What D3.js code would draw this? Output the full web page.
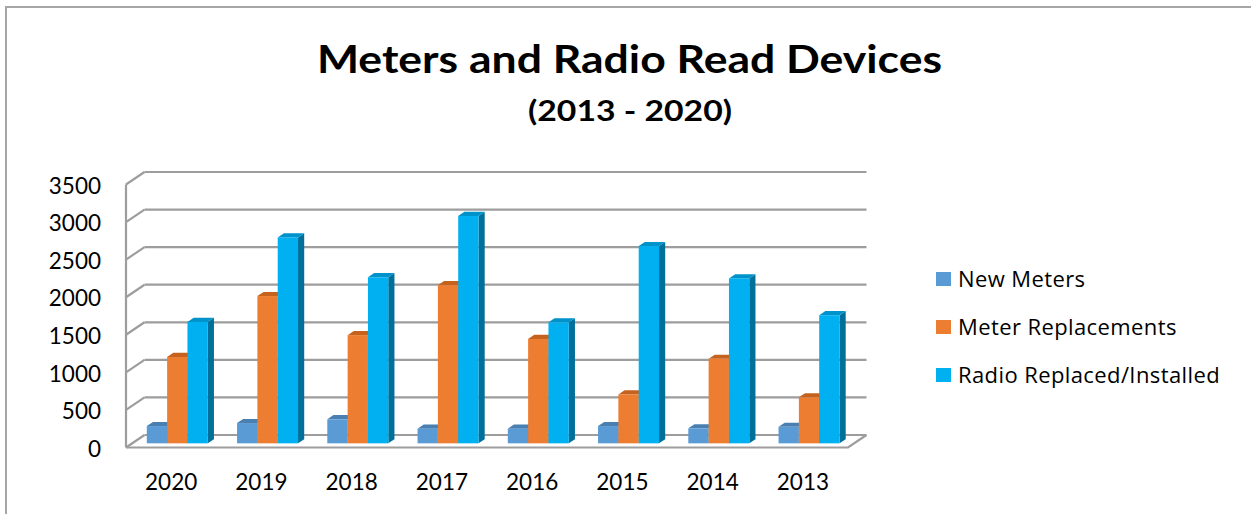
<!DOCTYPE html>
<html>
<head>
<meta charset="utf-8">
<script src="https://cdn.jsdelivr.net/npm/d3@7"></script>
<style>
  body { margin: 0; background: #fff; }
  text { fill: #000; }
</style>
</head>
<body>
<div id="chart"></div>
<script>
/////////////////////////////////////
///      DATA
/////////////////////////////////////
var years = ["2020", "2019", "2018", "2017", "2016", "2015", "2014", "2013"];
var newMeters = [230, 270, 320, 195, 195, 230, 200, 220];
var meterReplacements = [1150, 1960, 1440, 2105, 1390, 650, 1125, 612];
var radioReplaced = [1615, 2740, 2210, 3025, 1610, 2625, 2195, 1705];
var seriesNames = ["New Meters", "Meter Replacements", "Radio Replaced/Installed"];
var yTicks = [0, 500, 1000, 1500, 2000, 2500, 3000, 3500];

var width = 1251, height = 514;
// front, top and side colours per series
var faceCol = ["#5B9BD5", "#ED7D31", "#00B0F0"];
var topCol = ["#4A7FB1", "#C5621E", "#0092CA"];
var sideCol = ["#3F6D99", "#AE561A", "#00709B"];
var gridCol = "#9d9d9d";

var depth = {x: 18.5, y: -12.5};   // floor depth vector

var svg = d3.select("#chart").append("svg:svg")
    .attr("width", width)
    .attr("height", height)
    .attr("font-family", "Lato, sans-serif");

// outer border (top + left only visible)
svg.append("path")
   .attr("d", "M6," + height + "V7H" + width)
   .attr("fill", "none").attr("stroke", "#a6a6a6").attr("stroke-width", 2);

var x = d3.scaleBand().domain(years).range([126, 848]);
var y = d3.scaleLinear().domain([0, 3500]).range([447.5, 184.5]);
var clusterW = 61;
var xSub = d3.scaleBand().domain(seriesNames)
    .range([(x.bandwidth() - clusterW) / 2, (x.bandwidth() + clusterW) / 2]);

/////////////////////////////////////
///      WALLS + GRID
/////////////////////////////////////
var grid = svg.append("g").attr("fill", "none").attr("stroke", gridCol).attr("stroke-width", 2.2);
yTicks.forEach(function(t) {
   // back wall line
   grid.append("line")
       .attr("x1", x.range()[0] + depth.x).attr("x2", x.range()[1] + depth.x)
       .attr("y1", y(t) + depth.y).attr("y2", y(t) + depth.y);
   // side wall diagonal
   grid.append("line")
       .attr("x1", x.range()[0]).attr("x2", x.range()[0] + depth.x)
       .attr("y1", y(t)).attr("y2", y(t) + depth.y);
});
// left wall front edge
grid.append("line")
    .attr("x1", x.range()[0]).attr("x2", x.range()[0])
    .attr("y1", y(0)).attr("y2", y(3500));
// floor front + right edge
grid.append("path")
    .attr("d", "M" + x.range()[0] + "," + y(0) + "H" + x.range()[1] +
               "l" + depth.x + "," + depth.y);

/////////////////////////////////////
///      BARS
/////////////////////////////////////
var bdx = depth.x / 3, bdy = depth.y / 3;   // bar depth
var rows = [];
years.forEach(function(yr, i) {
   [newMeters[i], meterReplacements[i], radioReplaced[i]].forEach(function(v, s) {
      rows.push({year: yr, s: s, value: v});
   });
});

var bars = svg.append("g").selectAll("g").data(rows).enter().append("g");
bars.each(function(d) {
   var g = d3.select(this);
   var x0 = x(d.year) + xSub(seriesNames[d.s]) + bdx;
   var w = xSub.bandwidth();
   var yb = y(0) + bdy, yt = y(d.value) + bdy;
   // side face
   g.append("path")
    .attr("d", "M" + (x0 + w) + "," + yb + "L" + (x0 + w) + "," + yt +
               "l" + bdx + "," + bdy + "L" + (x0 + w + bdx) + "," + (yb + bdy) + "Z")
    .attr("fill", sideCol[d.s]);
   // top face
   g.append("path")
    .attr("d", "M" + x0 + "," + yt + "h" + w + "l" + bdx + "," + bdy +
               "h" + (-w) + "Z")
    .attr("fill", topCol[d.s]);
   // front face
   g.append("rect")
    .attr("x", x0).attr("y", yt)
    .attr("width", w).attr("height", yb - yt)
    .attr("fill", faceCol[d.s]);
});

/////////////////////////////////////
///      AXES
/////////////////////////////////////
var yAxis = svg.append("g")
   .attr("transform", "translate(" + x.range()[0] + ",1.5)")
   .call(d3.axisLeft(y).tickValues(yTicks).tickFormat(d3.format("d"))
           .tickSize(0).tickPadding(25));
yAxis.select(".domain").remove();
yAxis.attr("font-size", 22.5).attr("font-family", "Lato");

var xAxis = svg.append("g")
   .attr("transform", "translate(0," + y(0) + ")")
   .call(d3.axisBottom(x).tickSize(0).tickPadding(27));
xAxis.select(".domain").remove();
xAxis.attr("font-size", 22.5).attr("font-family", "Lato");

/////////////////////////////////////
///      TITLE + LEGEND
/////////////////////////////////////
svg.append("text")
   .attr("x", 629.5).attr("y", 73)
   .attr("text-anchor", "middle")
   .attr("font-size", 39).attr("font-weight", "bold")
   .attr("textLength", 625).attr("lengthAdjust", "spacingAndGlyphs")
   .text("Meters and Radio Read Devices");
svg.append("text")
   .attr("x", 630).attr("y", 121)
   .attr("text-anchor", "middle")
   .attr("font-size", 29).attr("font-weight", "bold")
   .attr("textLength", 204).attr("lengthAdjust", "spacingAndGlyphs")
   .text("(2013 - 2020)");

var legend = svg.append("g").selectAll("g").data(seriesNames).enter().append("g")
   .attr("transform", function(d, i) { return "translate(936," + (272 + i * 48) + ")"; });
legend.append("rect").attr("width", 15).attr("height", 14)
   .attr("fill", function(d, i) { return faceCol[i]; });
legend.append("text").attr("x", 22).attr("y", 15)
   .attr("font-family", "'Open Sans'").attr("font-size", 22)
   .attr("letter-spacing", 0.4)
   .text(function(d) { return d; });
</script>
</body>
</html>
